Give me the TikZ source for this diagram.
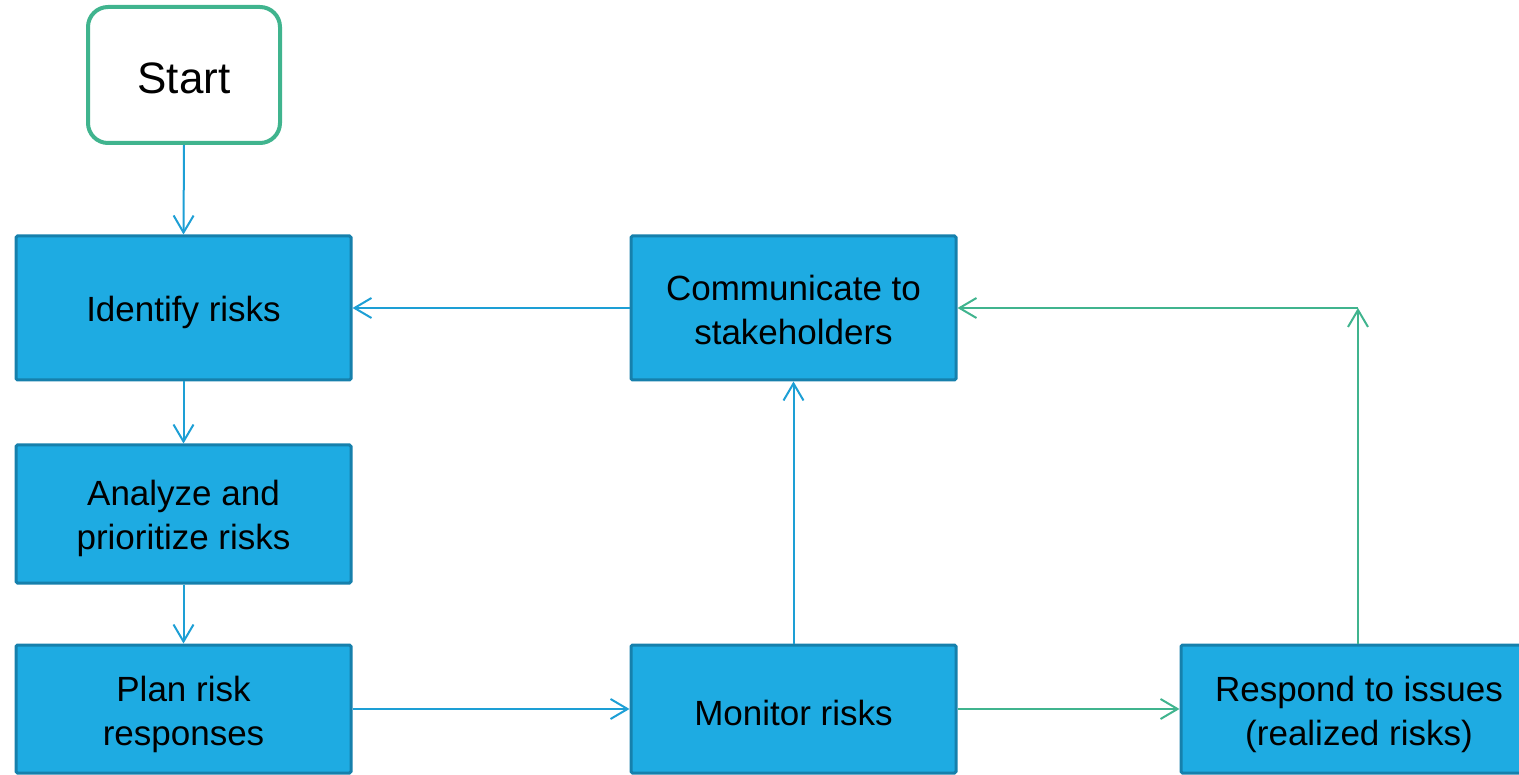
\documentclass[tikz,border=0pt]{standalone}
\usepackage{fontspec}
\setmainfont{Liberation Sans}
\usetikzlibrary{arrows.meta}
\definecolor{boxfill}{HTML}{1EABE2}
\definecolor{boxline}{HTML}{1680AC}
\definecolor{bluearrow}{HTML}{1D9FD5}
\definecolor{greenline}{HTML}{40B48E}
\newcommand\tstrut[1]{\rule{0pt}{#1pt}}
\begin{document}
\begin{tikzpicture}[x=1pt,y=-1pt,
  proc/.style={draw=boxline, line width=3pt, fill=boxfill, rounded corners=1.5pt,
    align=center, inner sep=0pt, font=\fontsize{35}{44}\selectfont},
  startbox/.style={draw=greenline, line width=4pt, fill=white, rounded corners=20pt,
    minimum width=192pt, minimum height=136pt, inner sep=0pt, font=\fontsize{44}{50}\selectfont},
  barb/.style={-{Straight Barb[length=17pt,width=20pt]}},
  bluecon/.style={barb, draw=bluearrow, line width=2pt},
  greencon/.style={barb, draw=greenline, line width=2pt}]
\useasboundingbox (0,0) rectangle (1519,775);
\clip (0,0) rectangle (1519,775);
\node[startbox] (start) at (184,75) {\tstrut{38}Start};
\node[proc, minimum width=335pt, minimum height=144pt] (ident) at (183.5,308) {\tstrut{34}Identify risks};
\node[proc, minimum width=335pt, minimum height=138pt] (analyze) at (183.5,514) {\tstrut{34}Analyze and\\prioritize risks};
\node[proc, minimum width=335pt, minimum height=128pt] (plan) at (183.5,709) {\tstrut{37}Plan risk\\responses};
\node[proc, minimum width=325pt, minimum height=144pt] (comm) at (793.5,308) {\tstrut{30}Communicate to\\stakeholders};
\node[proc, minimum width=325pt, minimum height=128pt] (monitor) at (793.5,709) {\tstrut{34}Monitor risks};
\node[proc, minimum width=356pt, minimum height=128pt] (respond) at (1359,709) {\tstrut{37}Respond to issues\\(realized risks)};
\coordinate (corner) at (1358,308);
\draw[bluecon] (start.south) -- (ident.north);
\draw[bluecon] (ident.south) -- (analyze.north);
\draw[bluecon] (analyze.south) -- (plan.north);
\draw[bluecon] (plan.east |- monitor.west) -- (monitor.west);
\draw[bluecon] (monitor.north) -- (comm.south);
\draw[bluecon] (comm.west) -- (ident.east);
\draw[greencon] (monitor.east) -- (respond.west);
\draw[greencon] (respond.north -| corner) -- (corner);
\draw[greencon] (corner) -- (comm.east);
\end{tikzpicture}
\end{document}
